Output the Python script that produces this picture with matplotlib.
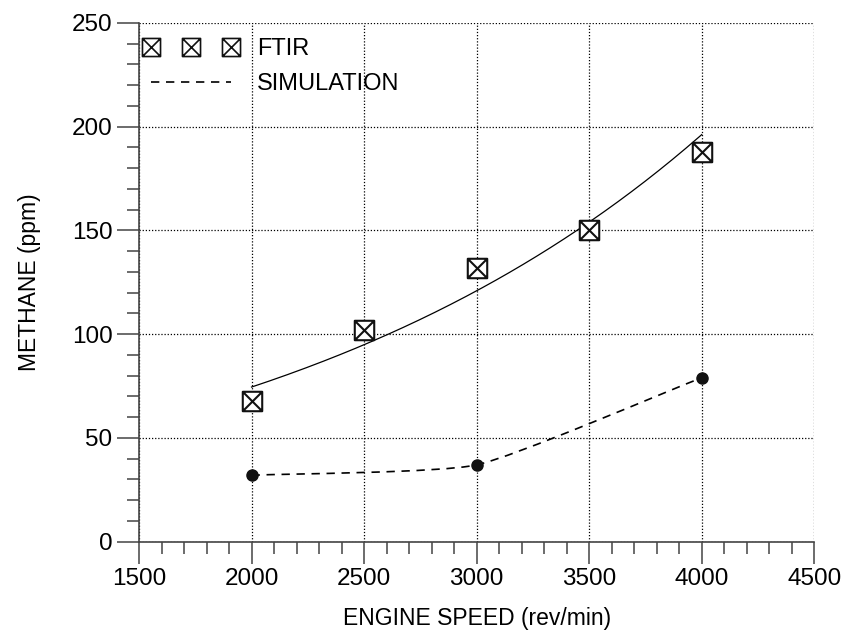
#!/usr/bin/env python3
"""Methane vs engine speed: FTIR measurements with exponential fit, plus simulation."""
import matplotlib
matplotlib.use('Agg')
import matplotlib.pyplot as plt
import numpy as np
from matplotlib.path import Path
from matplotlib.patches import PathPatch
from matplotlib.lines import Line2D

plt.rcParams['font.family'] = ['Liberation Sans', 'DejaVu Sans']

ftir_speed = [2000, 2500, 3000, 3500, 4000]
ftir_ch4 = [68, 102, 132, 150, 188]
sim_speed = [2000, 3000, 4000]
sim_ch4 = [32, 37, 79]

# square with a cross inside
box_x = Path([(-1, -1), (1, -1), (1, 1), (-1, 1), (-1, -1),
              (-1, -1), (1, 1), (-1, 1), (1, -1)],
             [Path.MOVETO, Path.LINETO, Path.LINETO, Path.LINETO, Path.CLOSEPOLY,
              Path.MOVETO, Path.LINETO, Path.MOVETO, Path.LINETO])

fig = plt.figure(figsize=(8.58, 6.34), dpi=100)
ax = fig.add_axes([0.162, 0.1456, 0.787, 0.8184])

# exponential fit to the FTIR data
b, a = np.polyfit(ftir_speed, np.log(ftir_ch4), 1)
xf = np.linspace(ftir_speed[0], ftir_speed[-1], 200)
ax.plot(xf, np.exp(a + b * xf), color='black', lw=0.9, zorder=3)

ax.plot(ftir_speed, ftir_ch4, linestyle='none', marker=box_x, ms=14,
        mfc='white', mec='#111111', mew=1.5, zorder=4)

# smooth dashed curve through the simulation points
pts = np.column_stack([sim_speed, sim_ch4]).astype(float)
n = len(pts)
tang = np.zeros_like(pts)
tang[0] = pts[1] - pts[0]
tang[-1] = pts[-1] - pts[-2]
for i in range(1, n - 1):
    tang[i] = (pts[i + 1] - pts[i - 1]) / 2
tang *= 0.5
verts = [tuple(pts[0])]
codes = [Path.MOVETO]
for i in range(n - 1):
    verts += [tuple(pts[i] + tang[i] / 3), tuple(pts[i + 1] - tang[i + 1] / 3), tuple(pts[i + 1])]
    codes += [Path.CURVE4] * 3
ax.add_patch(PathPatch(Path(verts, codes), fill=False, ec='black', lw=1.2,
                       linestyle=(0, (5, 4)), zorder=3))
ax.plot(sim_speed, sim_ch4, 'o', color='#111111', ms=8, zorder=4)

ax.set_xlim(1500, 4500)
ax.set_ylim(0, 250)
ax.set_xticks(np.arange(1500, 4501, 500))
ax.set_yticks(np.arange(0, 251, 50))
ax.set_xticks(np.arange(1500, 4501, 100), minor=True)
ax.set_yticks(np.arange(0, 251, 10), minor=True)
ax.tick_params(which='major', direction='out', length=16, width=1.1, color='#444444',
               labelsize=17.5, pad=3)
ax.tick_params(which='minor', direction='out', length=8.5, width=1.1, color='#444444')
ax.grid(which='major', color='black', linestyle=(0, (1, 1.5)), linewidth=0.9)
for side in ['top', 'right']:
    ax.spines[side].set_visible(False)
for side in ['left', 'bottom']:
    ax.spines[side].set_color('#444444')
    ax.spines[side].set_linewidth(1.2)

ax.set_xlabel('ENGINE SPEED (rev/min)', fontsize=16.5, labelpad=12)
ax.set_ylabel('METHANE (ppm)', fontsize=16.5, labelpad=22)

h1 = Line2D([], [], linestyle='none', marker=box_x, ms=13, mfc='white',
            mec='#111111', mew=1.2)
h2 = Line2D([], [], color='black', lw=1.2, linestyle=(0, (5, 4)))
ax.legend([h1, h2], ['FTIR', 'SIMULATION'], loc='upper left', bbox_to_anchor=(0, 0.979),
          frameon=False, fontsize=17, numpoints=3, handlelength=4.0, handletextpad=0.8,
          labelspacing=0.55, borderaxespad=0.1, borderpad=0.1)

fig.savefig('out.png', dpi=100)
plt.close()
